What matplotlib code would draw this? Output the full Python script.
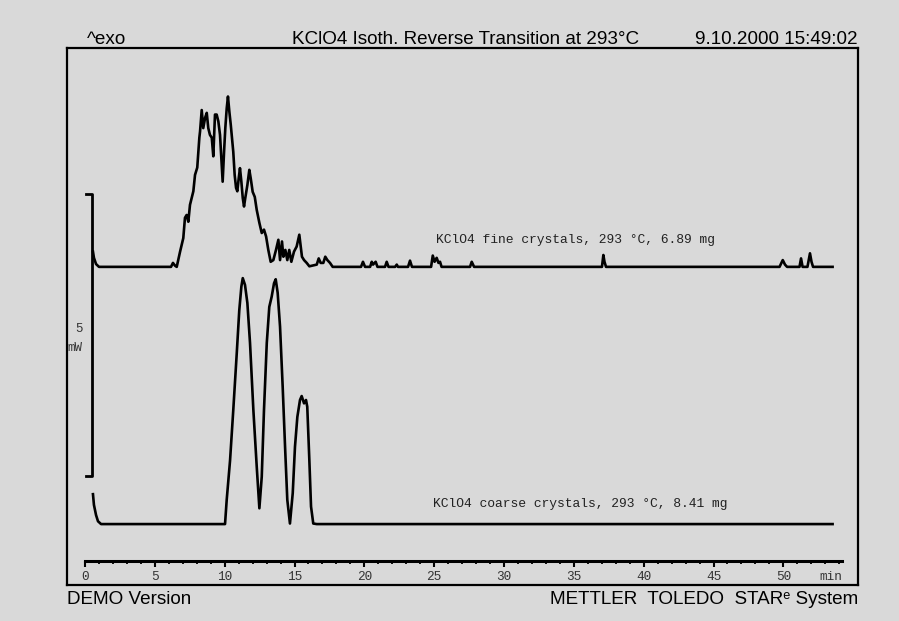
import matplotlib.pyplot as plt
import numpy as np

# Heat flow traces, time in min, heat flow in mW above each baseline
fine_t = [0.57, 0.64, 0.79, 1.00, 6.16, 6.30, 6.45, 6.57, 6.81, 7.04, 7.16, 7.28, 7.40, 7.52,
          7.76, 7.88, 8.04, 8.19, 8.24, 8.36, 8.47, 8.60, 8.72, 8.83, 8.95, 9.08, 9.19, 9.31,
          9.43, 9.55, 9.67, 9.79, 9.86, 9.96, 10.05, 10.15, 10.24, 10.34, 10.44, 10.53, 10.62,
          10.72, 10.82, 10.91, 11.01, 11.10, 11.20, 11.30, 11.39, 11.48, 11.63, 11.77, 11.87,
          12.01, 12.16, 12.30, 12.49, 12.66, 12.82, 12.97, 13.13, 13.30, 13.49, 13.68, 13.85,
          13.97, 14.11, 14.21, 14.35, 14.49, 14.63, 14.78, 14.97, 15.16, 15.35, 15.45, 15.54,
          15.69, 15.88, 16.07, 16.60, 16.74, 16.88, 17.07, 17.21, 17.36, 17.55, 17.74,
          19.77, 19.91, 20.06, 20.42, 20.54, 20.63, 20.82, 20.95, 21.49, 21.61, 21.74,
          22.21, 22.33, 22.42, 23.14, 23.28, 23.42, 24.79, 24.91, 25.04, 25.19, 25.32, 25.43,
          25.54, 27.58, 27.70, 27.87, 37.03, 37.13, 37.21, 37.32, 49.75, 49.98, 50.14, 50.29,
          51.18, 51.29, 51.40, 51.75, 51.93, 52.04, 52.15, 53.55]
fine_mw = [0.27, 0.16, 0.05, 0.00, 0.00, 0.07, 0.02, 0.00, 0.27, 0.51, 0.87, 0.92, 0.80, 1.10,
           1.34, 1.63, 1.76, 2.29, 2.40, 2.78, 2.46, 2.64, 2.73, 2.46, 2.34, 2.29, 1.96, 2.70,
           2.70, 2.58, 2.34, 1.81, 1.51, 2.04, 2.46, 2.81, 3.02, 2.75, 2.52, 2.28, 2.04,
           1.63, 1.40, 1.34, 1.57, 1.75, 1.51, 1.22, 1.07, 1.22, 1.45, 1.72, 1.57,
           1.33, 1.24, 1.01, 0.78, 0.60, 0.66, 0.54, 0.30, 0.09, 0.12, 0.30, 0.48,
           0.12, 0.45, 0.18, 0.30, 0.12, 0.30, 0.09, 0.27, 0.36, 0.57, 0.36, 0.18,
           0.12, 0.07, 0.01, 0.04, 0.15, 0.07, 0.07, 0.18, 0.12, 0.07, 0.00,
           0.00, 0.09, 0.00, 0.00, 0.09, 0.04, 0.09, 0.00, 0.00, 0.09, 0.00,
           0.00, 0.04, 0.00, 0.00, 0.11, 0.00, 0.00, 0.20, 0.09, 0.16, 0.07, 0.09,
           0.00, 0.00, 0.09, 0.00, 0.00, 0.21, 0.09, 0.00, 0.00, 0.12, 0.04, 0.00,
           0.00, 0.15, 0.00, 0.00, 0.24, 0.09, 0.00, 0.00]

coarse_t = [0.57, 0.64, 0.79, 0.93, 1.15, 10.03, 10.15, 10.39, 10.62, 10.87, 11.05, 11.20,
            11.30, 11.46, 11.63, 11.82, 12.06, 12.30, 12.49, 12.66, 12.82, 13.02, 13.20,
            13.37, 13.54, 13.66, 13.80, 13.97, 14.16, 14.33, 14.49, 14.68, 14.88, 15.04,
            15.21, 15.40, 15.52, 15.69, 15.83, 15.92, 16.07, 16.19, 16.35, 16.60, 53.55]
coarse_mw = [0.53, 0.34, 0.16, 0.05, 0.00, 0.00, 0.43, 1.13, 2.02, 3.03, 3.79, 4.21,
             4.36, 4.24, 3.92, 3.21, 2.02, 1.02, 0.28, 0.84, 2.02, 3.21, 3.85,
             4.03, 4.27, 4.34, 4.10, 3.50, 2.43, 1.37, 0.43, 0.01, 0.55, 1.37,
             1.90, 2.20, 2.27, 2.14, 2.20, 2.08, 1.13, 0.31, 0.01, 0.00, 0.00]

fine_label = "KClO4 fine crystals, 293 °C, 6.89 mg"
coarse_label = "KClO4 coarse crystals, 293 °C, 8.41 mg"
time_ticks = [0, 5, 10, 15, 20, 25, 30, 35, 40, 45, 50]

W, H = 899, 621
bg = '#d9d9d9'
sans = ['Liberation Sans', 'DejaVu Sans']
mono = ['Liberation Mono', 'DejaVu Sans Mono']


def box(x0, y0, x1, y1):
    # pixel box (top-left origin) -> figure fraction rect
    return [x0 / W, 1 - y1 / H, (x1 - x0) / W, (y1 - y0) / H]


fig = plt.figure(figsize=(W / 100, H / 100), dpi=100, facecolor=bg)

ax = fig.add_axes(box(67, 48, 858, 585), facecolor=bg)
ax.set_xlim(-1.29, 55.37)
ax.set_ylim(-1.08, 8.44)
ax.set_xticks([])
ax.set_yticks([])
for s in ax.spines.values():
    s.set_linewidth(1.6)

fine_offset = 4.56
ax.plot(coarse_t, coarse_mw, color='black', lw=1.9, solid_joinstyle='round')
ax.plot(fine_t, np.array(fine_mw) + fine_offset, color='black', lw=1.9, solid_joinstyle='round')

ax.text(25.14, fine_offset + 0.48, fine_label, family=mono, fontsize=9.4, color='#222222',
        va='center', ha='left')
ax.text(24.95, 0.36, coarse_label, family=mono, fontsize=9.4, color='#222222',
        va='center', ha='left')

# 5 mW scale bracket
y0 = 0.85
ax.plot([0.07, 0.5, 0.5, 0.07], [y0 + 5, y0 + 5, y0, y0], color='black', lw=2.0)
ax.text(-0.45, y0 + 2.6, "5", family=mono, fontsize=9, color='#333333', ha='center', va='center')
ax.text(-0.75, y0 + 2.28, "mW", family=mono, fontsize=9, color='#333333', ha='center', va='center')

# time axis
tax = fig.add_axes(box(85, 560, 842, 561), facecolor='none')
tax.set_xlim(0, 54.2)
tax.set_yticks([])
for name in ['top', 'left', 'right']:
    tax.spines[name].set_visible(False)
tax.spines['bottom'].set_linewidth(2.2)
tax.set_xticks(time_ticks)
tax.set_xticks(np.arange(0, 55, 1), minor=True)
tax.tick_params(axis='x', which='major', direction='out', length=4.5, width=1.5, pad=3,
                labelsize=9.2, labelcolor='#333333')
tax.tick_params(axis='x', which='minor', direction='out', length=2.5, width=1.3)
for lab in tax.get_xticklabels():
    lab.set_family(mono)
tax.annotate("min", xy=(54.2, 0), xycoords=tax.get_xaxis_transform(), xytext=(0, -7.5),
             textcoords='offset points', family=mono, fontsize=9.2, color='#333333',
             ha='right', va='top')

# header and footer
fs = 13.6
fig.text(87 / W, 1 - 40 / H, "^exo", family=sans, fontsize=fs, ha='left', va='center')
fig.text(466 / W, 1 - 40 / H, "KClO4 Isoth. Reverse Transition at 293°C", family=sans,
         fontsize=fs, ha='center', va='center')
fig.text(858 / W, 1 - 40 / H, "9.10.2000 15:49:02", family=sans, fontsize=fs,
         ha='right', va='center')
fig.text(67 / W, 1 - 599 / H, "DEMO Version", family=sans, fontsize=fs, ha='left', va='center')
fig.text(858 / W, 1 - 599 / H, "METTLER  TOLEDO  STARᵉ System", family=sans, fontsize=fs,
         ha='right', va='center')

fig.savefig("out.png", dpi=100, facecolor=bg)
